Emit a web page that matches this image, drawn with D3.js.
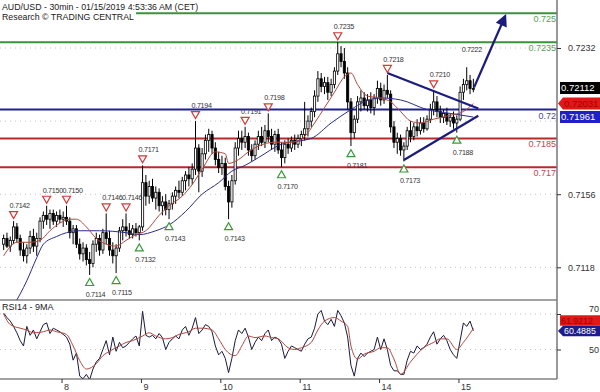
<!DOCTYPE html>
<html>
<head>
<meta charset="utf-8">
<script src="https://cdn.jsdelivr.net/npm/d3@7"></script>
<style>
  body { margin: 0; background: #fff; }
  svg { display: block; font-family: "Liberation Sans", Arial, sans-serif; }
</style>
</head>
<body>
<svg id="chart" width="600" height="392"></svg>
<script>
// ---- data (hourly candles, Jan 7 06:00 .. Jan 15 04:00) ----
const candles = [ // [open, high, low, close]
  [.7130,.7135,.7127,.7133],[.7133,.7136,.7128,.7129],[.7129,.7134,.7126,.7132],[.7132,.7142,.7130,.7139],
  [.7139,.7141,.7131,.7133],[.7133,.7135,.7124,.7127],[.7127,.7131,.7121,.7124],[.7124,.7130,.7120,.7128],
  [.7128,.7137,.7125,.7134],[.7134,.7138,.7126,.7129],[.7129,.7136,.7124,.7133],[.7133,.7144,.7131,.7142],
  [.7142,.7147,.7138,.7145],[.7145,.7150,.7140,.7143],[.7143,.7148,.7138,.7146],[.7146,.7148,.7140,.7142],
  [.7142,.7147,.7139,.7145],[.7145,.7148,.7141,.7143],[.7143,.7147,.7139,.7144],[.7144,.7150,.7140,.7142],
  [.7142,.7144,.7133,.7136],[.7136,.7140,.7130,.7138],[.7138,.7140,.7128,.7130],[.7130,.7133,.7122,.7125],
  [.7125,.7131,.7121,.7128],[.7128,.7130,.7119,.7122],[.7122,.7126,.7114,.7120],[.7120,.7132,.7118,.7130],
  [.7130,.7136,.7126,.7133],[.7133,.7135,.7124,.7127],[.7127,.7138,.7125,.7136],[.7136,.7146,.7130,.7133],
  [.7133,.7137,.7124,.7127],[.7127,.7131,.7120,.7124],[.7124,.7130,.7115,.7128],[.7128,.7139,.7126,.7137],
  [.7137,.7143,.7132,.7139],[.7139,.7146,.7134,.7137],[.7137,.7141,.7133,.7135],[.7135,.7140,.7133,.7138],
  [.7138,.7141,.7134,.7136],[.7136,.7140,.7132,.7139],[.7139,.7171,.7137,.7162],[.7162,.7166,.7150,.7155],
  [.7155,.7163,.7151,.7160],[.7160,.7164,.7152,.7154],[.7154,.7160,.7148,.7157],[.7157,.7159,.7147,.7150],
  [.7150,.7155,.7145,.7152],[.7152,.7156,.7145,.7148],[.7148,.7153,.7143,.7151],[.7151,.7157,.7148,.7155],
  [.7155,.7160,.7151,.7158],[.7158,.7163,.7154,.7157],[.7157,.7165,.7155,.7163],[.7163,.7168,.7158,.7166],
  [.7166,.7170,.7160,.7164],[.7164,.7172,.7161,.7169],[.7169,.7194,.7166,.7180],[.7180,.7182,.7157,.7168],
  [.7168,.7180,.7165,.7177],[.7177,.7187,.7174,.7184],[.7184,.7190,.7178,.7187],[.7187,.7189,.7177,.7180],
  [.7180,.7183,.7171,.7174],[.7174,.7178,.7167,.7170],[.7170,.7176,.7166,.7172],[.7172,.7175,.7158,.7160],
  [.7160,.7163,.7143,.7152],[.7152,.7166,.7149,.7163],[.7163,.7183,.7161,.7180],[.7180,.7189,.7176,.7185],
  [.7185,.7189,.7179,.7183],[.7183,.7191,.7180,.7186],[.7186,.7188,.7176,.7179],[.7179,.7182,.7173,.7176],
  [.7176,.7184,.7174,.7182],[.7182,.7189,.7179,.7186],[.7186,.7191,.7181,.7183],[.7183,.7192,.7180,.7189],
  [.7189,.7198,.7183,.7186],[.7186,.7190,.7179,.7182],[.7182,.7189,.7178,.7187],[.7187,.7190,.7177,.7179],
  [.7179,.7183,.7170,.7175],[.7175,.7184,.7172,.7182],[.7182,.7185,.7177,.7180],[.7180,.7186,.7178,.7184],
  [.7184,.7187,.7179,.7182],[.7182,.7187,.7180,.7185],[.7185,.7189,.7181,.7187],[.7187,.7204,.7184,.7190],
  [.7190,.7197,.7186,.7194],[.7194,.7201,.7191,.7199],[.7199,.7210,.7196,.7207],[.7207,.7220,.7204,.7216],
  [.7216,.7219,.7209,.7212],[.7212,.7217,.7208,.7214],[.7214,.7217,.7205,.7209],[.7209,.7216,.7207,.7213],
  [.7213,.7222,.7211,.7220],[.7220,.7235,.7218,.7229],[.7229,.7233,.7222,.7225],[.7225,.7232,.7216,.7219],
  [.7219,.7222,.7200,.7204],[.7204,.7206,.7181,.7188],[.7188,.7197,.7185,.7195],[.7195,.7207,.7193,.7204],
  [.7204,.7210,.7199,.7206],[.7206,.7209,.7200,.7202],[.7202,.7208,.7199,.7205],[.7205,.7209,.7198,.7201],
  [.7201,.7208,.7197,.7206],[.7206,.7215,.7203,.7211],[.7211,.7214,.7202,.7205],[.7205,.7213,.7203,.7210],
  [.7210,.7218,.7206,.7208],[.7208,.7210,.7188,.7191],[.7191,.7194,.7180,.7183],[.7183,.7188,.7177,.7185],
  [.7185,.7187,.7176,.7179],[.7179,.7183,.7173,.7181],[.7181,.7191,.7179,.7189],[.7189,.7194,.7183,.7186],
  [.7186,.7193,.7184,.7191],[.7191,.7195,.7186,.7189],[.7189,.7196,.7187,.7193],[.7193,.7196,.7188,.7190],
  [.7190,.7197,.7189,.7195],[.7195,.7203,.7193,.7200],[.7200,.7210,.7197,.7204],[.7204,.7207,.7196,.7199],
  [.7199,.7202,.7193,.7196],[.7196,.7200,.7193,.7198],[.7198,.7201,.7192,.7194],[.7194,.7198,.7191,.7196],
  [.7196,.7199,.7190,.7193],[.7193,.7197,.7188,.7195],[.7195,.7212,.7194,.7209],[.7209,.7216,.7205,.7213],
  [.7213,.7222,.7210,.7215],[.7215,.7218,.7208,.7211],[.7211,.7216,.7209,.7211]
];

// moving averages: [candle index, price]
const maFast = [[0,.7124],[4,.7131],[8,.7131],[11,.7132],[14,.7137],[17,.7141],[20,.7143],[22,.7143],[25,.7139],
  [28,.7133],[31,.7130],[34,.7129],[37,.7132],[40,.7135],[43,.7137],[47,.7145],[50,.7150],[54,.7155],[57,.7161],
  [60,.7169],[64,.7178],[67,.7177],[68,.7172],[71,.7174],[74,.7178],[77,.7181],[82,.7183],[87,.7183],[91,.7186],
  [94,.7193],[97,.7201],[100,.7209],[103,.7217],[105,.7219],[107,.7213],[110,.7207],[114,.7206],[117,.7204],
  [120,.7199],[123,.7194],[126,.7193],[130,.7195],[135,.7197],[139,.7199],[142,.72031]];
const maSlow = [[3,.7098],[7,.7111],[10,.7123],[12,.7130],[16,.7134],[19,.7136],[22,.7137],[29,.7137],[37,.7136],
  [41,.7135],[46,.7137],[50,.7140],[55,.7147],[60,.7156],[65,.7162],[69,.7168],[73,.7171],[77,.7175],[84,.7182],
  [93,.7185],[99,.7193],[105,.7200],[109,.7204],[114,.7206],[120,.7205],[128,.7200],[135,.7198],[142,.71961]];

// RSI14 per candle and its 9MA
const rsi = [70.5,68,66,63,59.4,55,52,63,58,61, 56,60,64,65,59,62,61,60,58.5,57,
  53,44,48,35,33.5,36,33,39,43,45, 50,55,47,57,49,54,51,52,54,56,
  57.6,52,71.5,58,57,58,56,59,56.7,50, 54,56,57.6,56,61,63,58,62,68,59,
  61,64,63,60,52,47,49,45,37,45, 55,61,59,62,57,50,54,57,55,59,
  61,55,57,56,53,45,49,52,51,50, 49,53,56,57,62,70,72,66,64,67,
  63,72,69,65,57,41,35,45,48,46, 48,49,50,57,50,56,50,41,38,38,
  36,36,44,49,48,52,50,51,53,57, 60,53,56,58,55,50,47,45,55,65,
  63,66,60.4885];
const rsiMa = [[0,70],[2,64],[5,62],[7,61],[9,59.4],[12,60],[14,61],[16,60],[19,58.5],[21,52],[23,43.7],[25,39],
  [28,42],[30,46.5],[32,49],[35,52],[37,54],[39,55],[42,57.6],[44,59.4],[46,57.6],[49,56],[51,56.7],[53,58.5],
  [56,60],[58,62],[60,62],[63,61],[65,56],[67,50],[70,46.5],[72,52],[74,57.6],[76,56.7],[79,57.6],[81,56.7],
  [83,56],[86,51],[88,50],[90,51],[93,54],[95,61],[97,66],[100,68],[102,66],[104,63],[105,52],[107,44.6],
  [109,47.4],[112,49],[114,51],[116,51],[118,44.6],[120,36],[123,43],[125,47.4],[127,51],[130,54],[132,56],
  [134,56],[137,50],[139,54],[142,61.9212]];

const dayIndex = [18, 42, 66, 90, 114, 138];
const dayLabels = ["8", "9", "10", "11", "14", "15"];
const priceGrid = [0.7232, 0.7194, 0.7156, 0.7118];
const priceTicks = [0.7232, 0.7156, 0.7118];
const rsiTicks = [70, 50];

const resistance = [0.725, 0.7235];
const pivot = [0.72];
const support = [0.7185, 0.717];

const peakIndex = [3, 13, 19, 31, 37, 42, 58, 73, 80, 101, 116, 130];
const troughIndex = [26, 34, 41, 50, 68, 84, 105, 121, 137];
const lastHighIndex = 140; // 0.7222, label only

const trendUpper = [[116, 0.7219], [143.5, 0.72005]];
const trendLower = [[121, 0.71738], [143.5, 0.71968]];
const arrowPath = [[142.2, 0.72115], [151.6, 0.72485]];

const lastPrice = 0.72112;

// ---- layout ----
const svg = d3.select("#chart");
const plotRight = 557, priceBottom = 300, rsiTop = 300, rsiBottom = 379;

const x = d3.scaleLinear().domain([0, 143]).range([2, 475]);
const cx = i => x(i + 0.5);
const y = d3.scaleLinear().domain([0.7118, 0.7232]).range([267.3, 48]);
const yr = d3.scaleLinear().domain([50, 70]).range([349.5, 314]);

const fmt4 = d3.format(".4f");
const fmtLevel = v => String(+v.toFixed(4));

const defs = svg.append("defs");
defs.append("clipPath").attr("id", "clipPrice")
  .append("rect").attr("x", 0).attr("y", 0).attr("width", plotRight).attr("height", priceBottom);
defs.append("clipPath").attr("id", "clipRsi")
  .append("rect").attr("x", 0).attr("y", rsiTop).attr("width", plotRight).attr("height", rsiBottom - rsiTop);
defs.append("marker").attr("id", "head")
  .attr("viewBox", "0 0 10 10").attr("refX", 8).attr("refY", 5)
  .attr("markerWidth", 6).attr("markerHeight", 5.5).attr("markerUnits", "strokeWidth")
  .attr("orient", "auto")
  .append("path").attr("d", "M0,0 L10,5 L0,10 Z").attr("fill", "#1c1c7e");

// grid
svg.append("g").selectAll("line").data(priceGrid).join("line")
  .attr("x1", 0).attr("x2", plotRight)
  .attr("y1", d => y(d)).attr("y2", d => y(d))
  .attr("stroke", "#c4c4c4").attr("stroke-dasharray", "1,4");
svg.append("g").selectAll("line").data(rsiTicks).join("line")
  .attr("x1", 0).attr("x2", plotRight)
  .attr("y1", d => yr(d)).attr("y2", d => yr(d))
  .attr("stroke", "#c4c4c4").attr("stroke-dasharray", "1,4");

// title
const title = svg.append("g");
title.append("text").attr("x", 2).attr("y", 10).attr("font-size", 8.8).attr("fill", "#222")
  .text("AUD/USD - 30min - 01/15/2019 4:53:36 AM (CET)");
const t2 = title.append("text").attr("x", 2).attr("y", 20).attr("font-size", 8.8).attr("fill", "#222")
  .text("Research \u00A9 TRADING CENTRAL");

// levels
const levelG = svg.append("g");
function drawLevels(vals, color, textColor) {
  levelG.append("g").selectAll("line").data(vals).join("line")
    .attr("x1", 0).attr("x2", plotRight)
    .attr("y1", d => y(d)).attr("y2", d => y(d))
    .attr("stroke", color).attr("stroke-width", 2);
  levelG.append("g").selectAll("text").data(vals).join("text")
    .attr("x", plotRight - 1).attr("y", d => y(d) + 9)
    .attr("text-anchor", "end").attr("font-size", 9).attr("fill", textColor)
    .text(fmtLevel);
}
drawLevels(resistance, "#3b923b", "#5aa05a");
drawLevels(pivot, "#20209a", "#4a4a8a");
drawLevels(support, "#b52a2a", "#b84a4a");

// white box behind the title (covers the line like the original)
const bb = t2.node().getBBox();
title.insert("rect", "text").attr("x", 0).attr("y", 0).attr("width", bb.x + bb.width + 2).attr("height", bb.y + bb.height + 1).attr("fill", "#fff");
title.raise();

// candles
const price = svg.append("g").attr("clip-path", "url(#clipPrice)");
const cg = price.append("g").selectAll("g").data(candles).join("g");
cg.append("line")
  .attr("x1", (d, i) => cx(i)).attr("x2", (d, i) => cx(i))
  .attr("y1", d => y(d[1])).attr("y2", d => y(d[2]))
  .attr("stroke", "#000").attr("stroke-width", 1);
cg.append("rect")
  .attr("x", (d, i) => cx(i) - 1.1).attr("width", 2.2)
  .attr("y", d => y(Math.max(d[0], d[3])))
  .attr("height", d => Math.max(1, Math.abs(y(d[0]) - y(d[3]))))
  .attr("fill", d => d[3] >= d[0] ? "#fff" : "#000")
  .attr("stroke", "#000").attr("stroke-width", 0.8);

// moving averages
const maLine = d3.line().x(d => cx(d[0])).y(d => y(d[1])).curve(d3.curveMonotoneX);
price.append("path").datum(maSlow).attr("d", maLine).attr("fill", "none").attr("stroke", "#2b2b8c").attr("stroke-width", 1);
price.append("path").datum(maFast).attr("d", maLine).attr("fill", "none").attr("stroke", "#b0483c").attr("stroke-width", 1);

// trend lines and arrow
const tl = d3.line().x(d => cx(d[0])).y(d => y(d[1]));
[trendUpper, trendLower].forEach(t => {
  svg.append("path").datum(t).attr("d", tl).attr("stroke", "#1c1c7e").attr("stroke-width", 2.2).attr("fill", "none");
});
svg.append("path").datum(arrowPath).attr("d", tl).attr("stroke", "#1c1c7e").attr("stroke-width", 2.2)
  .attr("fill", "none").attr("marker-end", "url(#head)");

// peak / trough markers
const marks = svg.append("g").attr("font-size", 7.2).attr("letter-spacing", -0.3).attr("fill", "#333");
peakIndex.forEach(i => {
  const px = cx(i), py = y(candles[i][1]) - 6;
  marks.append("path").attr("d", `M${px - 4},${py - 3.5}L${px + 4},${py - 3.5}L${px},${py + 3.5}Z`)
    .attr("fill", "#fff").attr("stroke", "#d03a3a").attr("stroke-width", 1.2);
  marks.append("text").attr("x", px - 4).attr("y", py - 7).text(fmt4(candles[i][1]));
});
troughIndex.forEach(i => {
  const px = cx(i), py = y(candles[i][2]) + 7;
  marks.append("path").attr("d", `M${px - 4},${py + 3.5}L${px + 4},${py + 3.5}L${px},${py - 3.5}Z`)
    .attr("fill", "#fff").attr("stroke", "#3a9a3a").attr("stroke-width", 1.2);
  marks.append("text").attr("x", px - 4).attr("y", py + 15).text(fmt4(candles[i][2]));
});
marks.append("text").attr("x", cx(lastHighIndex) - 5).attr("y", y(candles[lastHighIndex][1]) - 15)
  .text(fmt4(candles[lastHighIndex][1]));

// RSI panel
const rsiG = svg.append("g").attr("clip-path", "url(#clipRsi)");
rsiG.append("path").datum(rsi)
  .attr("d", d3.line().x((d, i) => cx(i)).y(d => yr(d)))
  .attr("fill", "none").attr("stroke", "#1a1a3c").attr("stroke-width", 1);
rsiG.append("path").datum(rsiMa)
  .attr("d", d3.line().x(d => cx(d[0])).y(d => yr(d[1])).curve(d3.curveMonotoneX))
  .attr("fill", "none").attr("stroke", "#b0483c").attr("stroke-width", 1);
svg.append("text").attr("x", 2).attr("y", rsiTop + 10).attr("font-size", 9).attr("fill", "#222").text("RSI14 - 9MA");

// frame
svg.append("line").attr("x1", 0).attr("x2", plotRight).attr("y1", rsiTop).attr("y2", rsiTop).attr("stroke", "#444");
svg.append("line").attr("x1", 0).attr("x2", plotRight).attr("y1", rsiBottom).attr("y2", rsiBottom).attr("stroke", "#444");
svg.append("line").attr("x1", plotRight).attr("x2", plotRight).attr("y1", 0).attr("y2", rsiBottom).attr("stroke", "#777").attr("stroke-width", 1.5);

// right axes
const axisP = svg.append("g").attr("transform", `translate(${plotRight},0)`)
  .call(d3.axisRight(y).tickValues(priceTicks).tickFormat(fmt4).tickSize(4).tickPadding(7));
const axisR = svg.append("g").attr("transform", `translate(${plotRight},0)`)
  .call(d3.axisRight(yr).tickValues(rsiTicks).tickSize(4).tickPadding(28));
[axisP, axisR].forEach(a => {
  a.select(".domain").remove();
  a.selectAll("line").attr("stroke", "#333");
  a.selectAll("text").attr("font-size", 9).attr("fill", "#333").attr("font-family", "Liberation Sans, Arial, sans-serif");
});
axisR.selectAll("text").attr("dy", d => d === 70 ? "-0.25em" : "0.32em");

// bottom axis
const axisX = svg.append("g").attr("transform", `translate(0,${rsiBottom})`)
  .call(d3.axisBottom(x).tickValues(dayIndex).tickFormat((d, i) => dayLabels[i]).tickSize(4).tickPadding(1));
axisX.select(".domain").remove();
axisX.selectAll("line").attr("stroke", "#333");
axisX.selectAll("text").attr("font-size", 9).attr("fill", "#333").attr("text-anchor", "start").attr("dx", 2)
  .attr("font-family", "Liberation Sans, Arial, sans-serif");

// value boxes on the right
function valueBox(v, yPos, fill, textColor, arrow, h, fs) {
  const g = svg.append("g");
  const top = yPos - h / 2, bot = yPos + h / 2, left = arrow ? 563 : 560;
  const d = arrow
    ? `M${plotRight + 1},${yPos}L${left},${top}L600,${top}L600,${bot}L${left},${bot}Z`
    : `M${left},${top}L600,${top}L600,${bot}L${left},${bot}Z`;
  g.append("path").attr("d", d).attr("fill", fill);
  g.append("text").attr("x", left + 1).attr("y", yPos + fs * 0.36).attr("font-size", fs)
    .attr("fill", textColor).text(v);
}
valueBox(d3.format(".5f")(lastPrice), y(lastPrice), "#000", "#fff", false, 12, 9.5);
valueBox(d3.format(".5f")(maFast[maFast.length - 1][1]), y(maFast[maFast.length - 1][1]), "#e01818", "#a00000", true, 12, 9.5);
valueBox(d3.format(".5f")(maSlow[maSlow.length - 1][1]), y(maSlow[maSlow.length - 1][1]), "#2020c8", "#fff", false, 12, 9.5);
const rsiLast = rsi[rsi.length - 1], rsiMaLast = rsiMa[rsiMa.length - 1][1];
valueBox(d3.format(".4f")(rsiMaLast), yr(rsiLast) - 10.5, "#e01818", "#a00000", false, 10.5, 8.8);
valueBox(d3.format(".4f")(rsiLast), yr(rsiLast), "#1c1c8c", "#fff", true, 10.5, 8.8);
</script>
</body>
</html>
